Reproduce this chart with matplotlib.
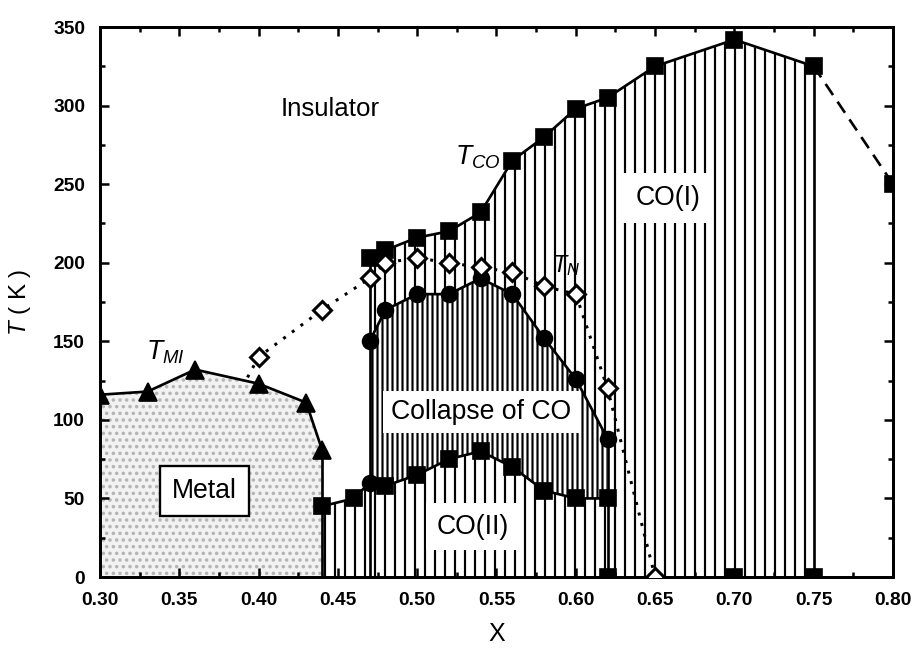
import numpy as np
import matplotlib
matplotlib.use('Agg')
import matplotlib.pyplot as plt

# T_MI (metal-insulator), triangles
mi_x = [0.30, 0.33, 0.36, 0.40, 0.43, 0.44]
mi_y = [116, 118, 132, 123, 111, 81]

# T_CO, upper squares
co_x = [0.47, 0.48, 0.50, 0.52, 0.54, 0.56, 0.58, 0.60, 0.62, 0.65, 0.70, 0.75]
co_y = [203, 208, 216, 220, 232, 265, 280, 298, 305, 325, 342, 325]
# dashed extension
co_ext_x = [0.75, 0.80]
co_ext_y = [325, 250]

# lower boundary of the collapse region (CO(II) top)
low_x = [0.44, 0.46, 0.47, 0.48, 0.50, 0.52, 0.54, 0.56, 0.58, 0.60, 0.62]
low_y = [45, 50, 60, 58, 65, 75, 80, 70, 55, 50, 50]

# upper boundary of the collapse region, circles
cl_x = [0.47, 0.48, 0.50, 0.52, 0.54, 0.56, 0.58, 0.60, 0.62]
cl_y = [150, 170, 180, 180, 190, 180, 152, 126, 88]

# T_N, open diamonds
tn_x = [0.40, 0.44, 0.47, 0.48, 0.50, 0.52, 0.54, 0.56, 0.58, 0.60, 0.62, 0.65]
tn_y = [140, 170, 190, 200, 203, 200, 197, 194, 185, 180, 120, 0]
tn_start = (0.393, 127)

# squares at T = 0
zero_x = [0.62, 0.70, 0.75]
zero_y = [0, 0, 0]

# vertical boundary lines
drop_x = [0.44, 0.47, 0.62, 0.75]
drop_top = [81, 203, 88, 325]

plt.rcParams['font.family'] = ['Liberation Sans', 'DejaVu Sans']
plt.rcParams['mathtext.fontset'] = 'custom'
plt.rcParams['mathtext.it'] = 'Liberation Sans:italic'
plt.rcParams['mathtext.rm'] = 'Liberation Sans'
plt.rcParams['hatch.linewidth'] = 1.3

fig = plt.figure(figsize=(913 / 120, 649 / 120), dpi=120)
ax = fig.add_axes([100 / 913, 1 - 577 / 649, 793 / 913, 550 / 649])

# metal region, stippled
ax.fill_between(mi_x, 0, mi_y, facecolor='#f2f2f2', edgecolor='#b4b4b4',
                hatch='...', linewidth=0, zorder=1)

# charge ordered region, hatched
hx = np.concatenate([low_x[:3], co_x])
hy = np.concatenate([low_y[:3], co_y])
ax.fill_between(hx, 0, hy, facecolor='white', edgecolor='black',
                hatch='||', linewidth=0, zorder=1)

# collapse of CO region, denser hatch
ax.fill_between(cl_x, low_y[2:], cl_y, facecolor='white', edgecolor='black',
                hatch='||||', linewidth=0, zorder=1.5)

ax.vlines(drop_x, 0, drop_top, colors='black', linewidth=1.6, zorder=2)

ms = 9.5
lw = 1.6
ax.plot(mi_x, mi_y, '-', color='black', lw=lw, marker='^', ms=11, zorder=4)
ax.plot(co_x, co_y, '-', color='black', lw=lw, marker='s', ms=ms, zorder=4)
ax.plot(co_ext_x, co_ext_y, color='black', lw=lw, ls=(0, (5, 3)), zorder=3)
ax.plot(co_ext_x[-1], co_ext_y[-1], 's', color='black', ms=ms, zorder=4)
ax.plot(low_x, low_y, '-', color='black', lw=lw, marker='s', ms=ms,
        markevery=[i for i in range(len(low_x)) if i != 2], zorder=4)
ax.plot(low_x[2], low_y[2], 'o', color='black', ms=ms, zorder=4)
ax.plot(cl_x, cl_y, '-', color='black', lw=lw, marker='o', ms=ms, zorder=4)
ax.plot([tn_start[0]] + tn_x, [tn_start[1]] + tn_y, color='black', lw=1.8,
        ls=(0, (1, 2.6)), zorder=3)
ax.plot(tn_x, tn_y, 'D', mfc='white', mec='black', mew=1.8, ms=7.5, zorder=5)
ax.plot(zero_x, zero_y, 's', color='black', ms=ms, zorder=4)

# labels
ax.text(0.445, 298, 'Insulator', fontsize=15.5, ha='center', va='center')
ax.text(0.366, 55, 'Metal', fontsize=16, ha='center', va='center', zorder=6,
        bbox=dict(boxstyle='square,pad=0.45', fc='white', ec='black', lw=1.4))
ax.text(0.540, 105, 'Collapse of CO', fontsize=16, ha='center', va='center', zorder=6,
        bbox=dict(boxstyle='square,pad=0.3', fc='white', ec='none'))
ax.text(0.535, 32, 'CO(II)', fontsize=16, ha='center', va='center', zorder=6,
        bbox=dict(boxstyle='square,pad=0.4', fc='white', ec='none'))
ax.text(0.658, 241, 'CO(I)', fontsize=16, ha='center', va='center', zorder=6,
        bbox=dict(boxstyle='square,pad=0.45', fc='white', ec='none'))
ax.text(0.341, 143, r'$T_{MI}$', fontsize=16, ha='center', va='center', zorder=6)
ax.text(0.538, 267, r'$T_{CO}$', fontsize=16, ha='center', va='center', zorder=6)
ax.text(0.594, 198, r'$T_{N}$', fontsize=14, ha='center', va='center', zorder=6)

ax.set_xlim(0.30, 0.80)
ax.set_ylim(0, 350)
ax.set_xticks(np.arange(0.30, 0.801, 0.05))
ax.set_xticks(np.arange(0.30, 0.801, 0.025), minor=True)
ax.set_yticks(np.arange(0, 351, 50))
ax.set_yticks(np.arange(0, 351, 25), minor=True)
ax.xaxis.set_major_formatter(matplotlib.ticker.FormatStrFormatter('%.2f'))
ax.tick_params(which='both', direction='in', top=True, right=True, width=1.5)
ax.tick_params(which='major', length=5.5, labelsize=11.5, pad=9)
ax.tick_params(which='minor', length=3)
for lab in ax.get_xticklabels() + ax.get_yticklabels():
    lab.set_fontweight('bold')
for sp in ax.spines.values():
    sp.set_linewidth(1.8)

ax.set_xlabel('X', fontsize=15, labelpad=8)
ax.set_ylabel(r'$T$ ( K )', fontsize=14.5, labelpad=12)

fig.savefig('out.png', dpi=120)
